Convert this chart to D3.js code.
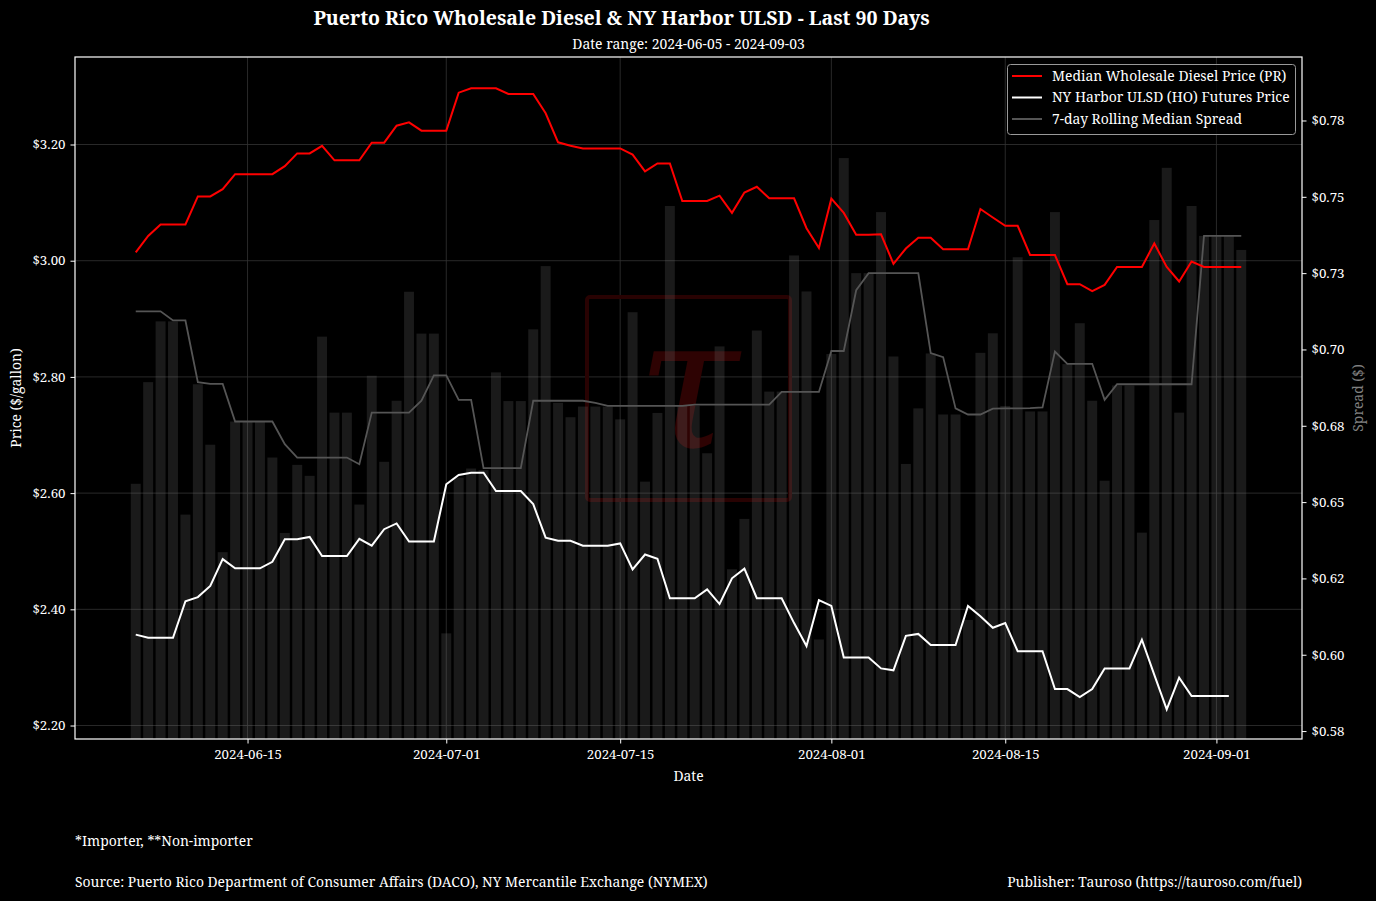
<!DOCTYPE html>
<html>
<head>
<meta charset="utf-8">
<script src="https://cdn.jsdelivr.net/npm/d3@7/dist/d3.min.js"></script>
<style>
  html, body { margin: 0; padding: 0; background: #000; }
  svg { display: block; }
</style>
</head>
<body>
<svg id="chart" width="1376" height="901"></svg>
<script>
// ---------------- DATA ----------------
const startDate = "2024-06-06";
const endDate = "2024-09-03";

const prDiesel = [
  3.0145, 3.0427, 3.0625, 3.0625, 3.0625, 3.1107, 3.1107, 3.1232, 3.149, 3.149,
  3.149, 3.149, 3.1628, 3.1847, 3.1847, 3.1978, 3.1728, 3.1728, 3.1728, 3.2031,
  3.2031, 3.2324, 3.2382, 3.2238, 3.2238, 3.2238, 3.2892, 3.2967, 3.2967, 3.2967,
  3.2869, 3.2869, 3.2869, 3.2537, 3.2038, 3.198, 3.1933, 3.1933, 3.1933, 3.1933,
  3.1826, 3.1537, 3.1675, 3.1675, 3.1027, 3.1027, 3.1027, 3.112, 3.0823, 3.1174,
  3.1272, 3.1074, 3.1074, 3.1074, 3.056, 3.0217, 3.1067, 3.0823, 3.0447, 3.0447,
  3.0454, 2.9947, 3.021, 3.0394, 3.0394, 3.0196, 3.0196, 3.0196, 3.089, 3.0744,
  3.06, 3.06, 3.0098, 3.0098, 3.0098, 2.9596, 2.9596, 2.9477, 2.9584, 2.9893,
  2.9893, 2.9893, 3.0296, 2.9893, 2.9642, 2.9986, 2.9893, 2.9893, 2.9893, 2.9893
];

const nyHarbor = [
  2.3564, 2.3511, 2.3511, 2.3511, 2.4138, 2.421, 2.4403, 2.4864, 2.4706, 2.4706,
  2.4706, 2.4818, 2.5207, 2.5207, 2.5246, 2.4917, 2.4917, 2.4917, 2.5213, 2.5095,
  2.5379, 2.5478, 2.5167, 2.5167, 2.5167, 2.6153, 2.6311, 2.6351, 2.6351, 2.6036,
  2.6036, 2.6036, 2.581, 2.5234, 2.518, 2.518, 2.5095, 2.5095, 2.5095, 2.5134,
  2.4687, 2.4943, 2.4871, 2.4191, 2.4191, 2.4191, 2.4343, 2.4091, 2.4534, 2.4699,
  2.4191, 2.4191, 2.4191, 2.3763, 2.3367, 2.4158, 2.4058, 2.3169, 2.3169, 2.3169,
  2.2983, 2.295, 2.3544, 2.3577, 2.3386, 2.3386, 2.3386, 2.4058, 2.3881, 2.3683,
  2.3763, 2.328, 2.328, 2.328, 2.2627, 2.2627, 2.2489, 2.2627, 2.2983, 2.2983,
  2.2983, 2.3478, 2.2871, 2.2277, 2.2825, 2.2508, 2.2508, 2.2508, 2.2508, null
];

const dailySpread = [
  0.656, 0.6893, 0.7092, 0.7092, 0.6459, 0.6886, 0.6688, 0.6336, 0.6764, 0.6764,
  0.6764, 0.6646, 0.6399, 0.6622, 0.6586, 0.7042, 0.6793, 0.6793, 0.6492, 0.6914,
  0.6632, 0.6832, 0.7189, 0.7052, 0.7052, 0.607, 0.658, 0.661, 0.6605, 0.6925,
  0.6831, 0.6831, 0.7066, 0.7273, 0.6825, 0.6778, 0.6813, 0.6813, 0.6813, 0.6771,
  0.7122, 0.6567, 0.6792, 0.747, 0.6815, 0.6815, 0.666, 0.701, 0.628, 0.6445,
  0.7062, 0.6862, 0.6862, 0.7308, 0.719, 0.605, 0.6985, 0.7627, 0.725, 0.725,
  0.745, 0.6977, 0.6625, 0.6807, 0.6987, 0.6787, 0.6787, 0.6114, 0.6989, 0.7053,
  0.6815, 0.7302, 0.6797, 0.6797, 0.745, 0.6952, 0.7086, 0.6832, 0.657, 0.6882,
  0.6882, 0.64, 0.7424, 0.7595, 0.6793, 0.747, 0.7372, 0.7372, 0.7372, 0.7326
];

const rollingSpread = [
  0.7125, 0.7125, 0.7125, 0.7095, 0.7095, 0.6893, 0.6887, 0.6887, 0.6764, 0.6764,
  0.6764, 0.6764, 0.669, 0.6646, 0.6646, 0.6646, 0.6646, 0.6646, 0.6624, 0.6793,
  0.6793, 0.6793, 0.6793, 0.6832, 0.6915, 0.6915, 0.6835, 0.6835, 0.6611, 0.6611,
  0.6611, 0.6611, 0.6832, 0.6832, 0.6832, 0.6832, 0.6832, 0.6825, 0.6815, 0.6815,
  0.6815, 0.6815, 0.6815, 0.6815, 0.6815, 0.6819, 0.6819, 0.6819, 0.6819, 0.6819,
  0.6819, 0.6819, 0.6861, 0.6861, 0.6861, 0.6861, 0.6995, 0.6995, 0.7194, 0.725,
  0.725, 0.725, 0.725, 0.725, 0.6988, 0.6975, 0.6807, 0.6787, 0.6787, 0.6806,
  0.6807, 0.6807, 0.6808, 0.681, 0.6993, 0.6953, 0.6953, 0.6953, 0.6835, 0.6886,
  0.6886, 0.6886, 0.6886, 0.6886, 0.6886, 0.6886, 0.7372, 0.7372, 0.7372, 0.7372
];

const leftTicks = [2.2, 2.4, 2.6, 2.8, 3.0, 3.2];
const rightTicks = [0.575, 0.6, 0.625, 0.65, 0.675, 0.7, 0.725, 0.75, 0.775];
const rightTickLabels = ["$0.58", "$0.60", "$0.62", "$0.65", "$0.68", "$0.70", "$0.73", "$0.75", "$0.78"];
const dateTicks = ["2024-06-15", "2024-07-01", "2024-07-15", "2024-08-01", "2024-08-15", "2024-09-01"];

const seriesNames = ["Median Wholesale Diesel Price (PR)", "NY Harbor ULSD (HO) Futures Price", "7-day Rolling Median Spread"];

// ---------------- LAYOUT ----------------
const FONT = "'Noto Serif', 'DejaVu Serif Condensed', 'DejaVu Serif', serif";
const FS = 13.9;      // base text size
const FS_TICK = 13.3; // tick label size
const M = { left: 75, right: 1302, top: 57, bottom: 739 };
const svg = d3.select("#chart");
svg.append("rect").attr("width", 1376).attr("height", 901).attr("fill", "#000");

const parse = d3.utcParse("%Y-%m-%d");
const dates = d3.utcDay.range(parse(startDate), d3.utcDay.offset(parse(endDate), 1));
const DAY = 86400000;
const pad = 4.89 * DAY;

const x = d3.scaleUtc()
  .domain([new Date(dates[0].getTime() - pad), new Date(dates[dates.length - 1].getTime() + pad)])
  .range([M.left, M.right]);
const yL = d3.scaleLinear().domain([2.1768, 3.3506]).range([M.bottom, M.top]);
const yR = d3.scaleLinear().domain([0.5724, 0.7958]).range([M.bottom, M.top]);

svg.append("defs").append("clipPath").attr("id", "plotclip")
  .append("rect").attr("x", M.left).attr("y", M.top)
  .attr("width", M.right - M.left).attr("height", M.bottom - M.top);

// grid
const grid = svg.append("g");
grid.selectAll("line.h").data(leftTicks).join("line")
  .attr("x1", M.left).attr("x2", M.right)
  .attr("y1", d => yL(d)).attr("y2", d => yL(d))
  .attr("stroke", "#333").attr("stroke-width", 0.8);
grid.selectAll("line.v").data(dateTicks.map(parse)).join("line")
  .attr("y1", M.top).attr("y2", M.bottom)
  .attr("x1", d => x(d)).attr("x2", d => x(d))
  .attr("stroke", "#333").attr("stroke-width", 0.8);

const plot = svg.append("g").attr("clip-path", "url(#plotclip)");

// watermark
const wm = plot.append("g");
wm.append("rect").attr("x", 587).attr("y", 297).attr("width", 203).attr("height", 203)
  .attr("rx", 3).attr("fill", "none").attr("stroke", "#280202").attr("stroke-width", 4);
wm.append("text").attr("x", 688).attr("y", 448).attr("text-anchor", "middle")
  .attr("font-family", "'DejaVu Serif', serif").attr("font-style", "italic")
  .attr("font-size", 185).attr("fill", "#2e0303").text("τ");

// bars
const bw = x(new Date(dates[0].getTime() + 0.4 * DAY)) - x(new Date(dates[0].getTime() - 0.4 * DAY));
plot.selectAll("rect.bar").data(dailySpread.map((v, i) => ({ d: dates[i], v })))
  .join("rect").attr("class", "bar")
  .attr("x", d => x(d.d) - bw / 2).attr("width", bw)
  .attr("y", d => yR(d.v)).attr("height", d => M.bottom - yR(d.v))
  .attr("fill", "#808080").attr("fill-opacity", 0.2);

// lines
const lineL = d3.line().defined(d => d.v != null).x(d => x(d.d)).y(d => yL(d.v));
const lineR = d3.line().defined(d => d.v != null).x(d => x(d.d)).y(d => yR(d.v));
plot.append("path").datum(rollingSpread.map((v, i) => ({ d: dates[i], v })))
  .attr("d", lineR).attr("fill", "none").attr("stroke", "#555555").attr("stroke-width", 1.8);
plot.append("path").datum(prDiesel.map((v, i) => ({ d: dates[i], v })))
  .attr("d", lineL).attr("fill", "none").attr("stroke", "#ff0000").attr("stroke-width", 2);
plot.append("path").datum(nyHarbor.map((v, i) => ({ d: dates[i], v })))
  .attr("d", lineL).attr("fill", "none").attr("stroke", "#ffffff").attr("stroke-width", 2);

// axes
function styleAxis(g) {
  g.select(".domain").remove();
  g.selectAll(".tick line").attr("stroke", "#fff").attr("stroke-width", 1);
  g.selectAll(".tick text").attr("fill", "#fff").attr("font-family", FONT).attr("font-size", FS_TICK);
}
svg.append("g").attr("transform", `translate(${M.left},0)`)
  .call(d3.axisLeft(yL).tickValues(leftTicks).tickFormat(d => "$" + d.toFixed(2)).tickSize(4.5).tickPadding(5))
  .call(styleAxis);
svg.append("g").attr("transform", `translate(${M.right},0)`)
  .call(d3.axisRight(yR).tickValues(rightTicks).tickFormat((d, i) => rightTickLabels[i]).tickSize(4.5).tickPadding(5))
  .call(styleAxis);
svg.append("g").attr("transform", `translate(0,${M.bottom})`)
  .call(d3.axisBottom(x).tickValues(dateTicks.map(parse)).tickFormat(d3.utcFormat("%Y-%m-%d")).tickSize(4.5).tickPadding(6))
  .call(styleAxis);

// frame
svg.append("rect").attr("x", M.left).attr("y", M.top)
  .attr("width", M.right - M.left).attr("height", M.bottom - M.top)
  .attr("fill", "none").attr("stroke", "#fff").attr("stroke-width", 1.2);

// labels
svg.append("text").attr("x", 621.5).attr("y", 25).attr("text-anchor", "middle")
  .attr("font-family", FONT).attr("font-weight", "bold").attr("font-size", 19.5).attr("fill", "#fff")
  .text("Puerto Rico Wholesale Diesel & NY Harbor ULSD - Last 90 Days");
svg.append("text").attr("x", 688.5).attr("y", 49).attr("text-anchor", "middle")
  .attr("font-family", FONT).attr("font-size", FS).attr("fill", "#fff")
  .text("Date range: 2024-06-05 - 2024-09-03");
svg.append("text").attr("x", 688.5).attr("y", 781).attr("text-anchor", "middle")
  .attr("font-family", FONT).attr("font-size", FS).attr("fill", "#fff").text("Date");
svg.append("text").attr("transform", "translate(21,398) rotate(-90)").attr("text-anchor", "middle")
  .attr("font-family", FONT).attr("font-size", FS).attr("fill", "#fff").text("Price ($/gallon)");
svg.append("text").attr("transform", "translate(1363,398) rotate(-90)").attr("text-anchor", "middle")
  .attr("font-family", FONT).attr("font-size", FS).attr("fill", "#808080").text("Spread ($)");

svg.append("text").attr("x", 75).attr("y", 846)
  .attr("font-family", FONT).attr("font-size", FS).attr("fill", "#fff").text("*Importer, **Non-importer");
svg.append("text").attr("x", 75).attr("y", 887)
  .attr("font-family", FONT).attr("font-size", FS).attr("fill", "#fff")
  .text("Source: Puerto Rico Department of Consumer Affairs (DACO), NY Mercantile Exchange (NYMEX)");
svg.append("text").attr("x", 1302).attr("y", 887).attr("text-anchor", "end")
  .attr("font-family", FONT).attr("font-size", FS).attr("fill", "#fff")
  .text("Publisher: Tauroso (https://tauroso.com/fuel)");

// legend
const leg = svg.append("g");
leg.append("rect").attr("x", 1007.5).attr("y", 64.5).attr("width", 288).attr("height", 70)
  .attr("rx", 3).attr("fill", "#000").attr("fill-opacity", 0.8).attr("stroke", "#999").attr("stroke-width", 1);
const legColors = ["#ff0000", "#ffffff", "#555555"];
seriesNames.forEach((name, i) => {
  const cy = 76 + i * 21.5;
  leg.append("line").attr("x1", 1012).attr("x2", 1042).attr("y1", cy).attr("y2", cy)
    .attr("stroke", legColors[i]).attr("stroke-width", 2);
  leg.append("text").attr("x", 1052).attr("y", cy).attr("dy", "0.35em")
    .attr("font-family", FONT).attr("font-size", FS).attr("fill", "#fff").text(name);
});
</script>
</body>
</html>
